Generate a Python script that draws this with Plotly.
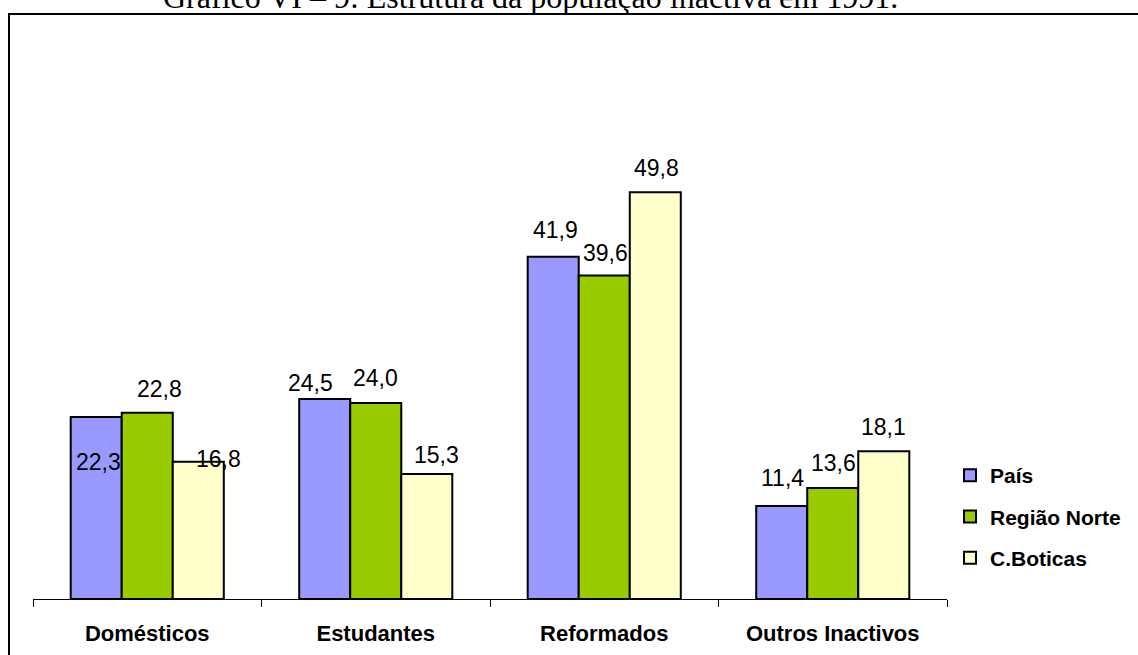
"""Estrutura da população inactiva em 1991 - grouped bar chart."""

import plotly.graph_objects as go

# data
categorias = ['Domésticos', 'Estudantes', 'Reformados', 'Outros Inactivos']
series = ['País', 'Região Norte', 'C.Boticas']
pais = [22.3, 24.5, 41.9, 11.4]
regiao_norte = [22.8, 24.0, 39.6, 13.6]
c_boticas = [16.8, 15.3, 49.8, 18.1]
titulo = 'Gráfico VI – 9: Estrutura da população inactiva em 1991.'

valores = [pais, regiao_norte, c_boticas]
cores = ['#9999FF', '#99CC00', '#FFFFCC']

# label nudges (px) relative to bar centre / bar top, per series then category
label_dx = [[2, -14, 2, 1], [12, 0, 1, 1], [20, 10, 1, 0]]
label_dy = [[-45, 16, 27, 28], [24, 25, 23, 25], [3, 19, 24, 24]]

# page geometry (px)
W, H = 1138, 655
plot_l, plot_r = 33, 947
plot_t, plot_b = 109, 599
y_max = 60
bargap = 0.33

font_main = 'Arial, Liberation Sans, sans-serif'


def px_to_paper(x=None, y=None):
    if x is not None:
        return (x - plot_l) / (plot_r - plot_l)
    return (plot_b - y) / (plot_b - plot_t)


fig = go.Figure()

for i, nome in enumerate(series):
    fig.add_trace(go.Bar(
        x=categorias,
        y=valores[i],
        name=nome,
        legendgroup=nome,
        marker=dict(color=cores[i], line=dict(color='black', width=2)),
    ))

# value labels
cat_px = (plot_r - plot_l) / len(categorias)
bar_px = cat_px * (1 - bargap) / len(series)
annotations = []
for i in range(len(series)):
    for j, cat in enumerate(categorias):
        v = valores[i][j]
        annotations.append(dict(
            x=cat, y=v, xref='x', yref='y',
            text=f'{v:.1f}'.replace('.', ','),
            showarrow=False, xanchor='center', yanchor='middle',
            xshift=(i - 1) * bar_px + label_dx[i][j],
            yshift=label_dy[i][j],
            font=dict(family=font_main, size=23, color='black'),
        ))

# title, cut off at the top of the page
annotations.append(dict(
    x=px_to_paper(x=(165 + 895) / 2), xref='paper',
    y=px_to_paper(y=-3), yref='paper',
    text=titulo, showarrow=False, xanchor='center', yanchor='middle',
    font=dict(family='Times New Roman, Liberation Serif, serif', size=32, color='black'),
))

fig.update_layout(
    width=W,
    height=H,
    autosize=False,
    margin=dict(l=plot_l, r=W - plot_r, t=plot_t, b=H - plot_b, pad=0,
                autoexpand=False),
    paper_bgcolor='white',
    plot_bgcolor='white',
    barmode='group',
    bargap=bargap,
    bargroupgap=0,
    font=dict(family=font_main, color='black'),
    annotations=annotations,
    shapes=[dict(
        type='rect', xref='paper', yref='paper',
        x0=px_to_paper(x=9), x1=px_to_paper(x=W + 20),
        y0=px_to_paper(y=H + 20), y1=px_to_paper(y=14),
        line=dict(color='black', width=2), fillcolor='rgba(0,0,0,0)',
        layer='below',
    )],
    legend=dict(
        x=950 / W, xref='container', xanchor='left',
        y=1 - 455 / H, yref='container', yanchor='top',
        font=dict(family=font_main, size=21, color='black', weight='bold'),
        itemwidth=30,
        tracegroupgap=11,
        traceorder='grouped',
        bgcolor='rgba(0,0,0,0)',
    ),
    xaxis=dict(
        type='category',
        showline=True, linecolor='black', linewidth=1,
        ticks='outside', tickson='boundaries', ticklen=7, tickcolor='black',
        ticklabelstandoff=15,
        tickfont=dict(family=font_main, size=22, color='black', weight='bold'),
        showgrid=False,
        automargin=False,
    ),
    yaxis=dict(
        range=[0, y_max],
        visible=False,
        showgrid=False,
        automargin=False,
    ),
)

# no page margin / scrollbars so the figure sits at the window's top-left corner
page_css = (
    "document.documentElement.style.overflow='hidden';"
    "document.body.style.overflow='hidden';"
    "document.body.style.margin='0';"
)

fig.write_html(
    'out.html',
    config={'displayModeBar': False, 'responsive': False},
    post_script=page_css,
)
